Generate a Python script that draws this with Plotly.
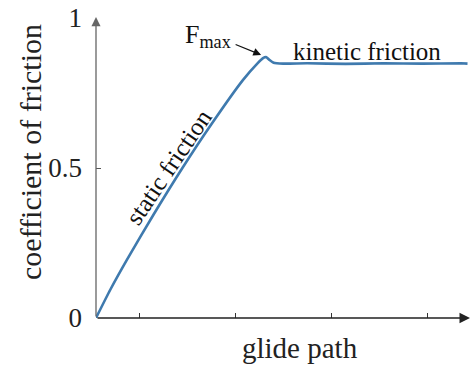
import plotly.graph_objects as go

# data (x in arbitrary glide-path units, y = coefficient of friction)
glide = [0.0, 0.15, 0.32, 0.6, 0.9, 1.2, 1.53, 1.68, 1.74, 1.77, 1.80, 1.85, 1.95, 2.2, 2.6, 3.0, 3.4, 3.8, 3.87]
mu    = [0.0, 0.095, 0.193, 0.345, 0.50, 0.645, 0.793, 0.848, 0.866, 0.870, 0.862, 0.851, 0.848, 0.849, 0.847, 0.849, 0.848, 0.849, 0.848]

xticks = [0.448, 1.448, 2.448, 3.448]
yticks = [0, 0.5, 1]
yticklabels = ["0", "0.5", "1"]

FONT = "Liberation Serif"
XMAX = 374 / 96
ML, MB, PW, PH, H = 96, 49, 374, 300, 367


def px(x, y):
    return (x - ML) / PW, (H - MB - y) / PH


fig = go.Figure()
fig.add_trace(go.Scatter(x=glide, y=mu, mode="lines",
                         line=dict(color="#3f7aae", width=2.6, shape="spline", smoothing=0.6),
                         hoverinfo="skip", showlegend=False, cliponaxis=False))

fig.update_layout(
    width=471, height=367,
    margin=dict(l=ML, r=1, t=18, b=MB),
    paper_bgcolor="white", plot_bgcolor="white",
    font=dict(family=FONT, color="#222", size=26),
    xaxis=dict(range=[0, XMAX], showgrid=False, zeroline=False, showline=False,
               tickvals=xticks, ticktext=["", "", "", ""], ticks="inside",
               ticklen=5, tickcolor="#333", tickwidth=1),
    yaxis=dict(range=[0, 1], showgrid=False, zeroline=False, showline=False,
               tickvals=yticks, ticktext=yticklabels, ticks="inside",
               ticklen=5, tickcolor="#555", tickwidth=1,
               tickfont=dict(family=FONT, size=27, color="#222"),
               ticklabelstandoff=13),
)

# axis arrows
fig.add_annotation(x=0, y=1.003, ax=0, ay=0, xref="x", yref="y", axref="x", ayref="y",
                   showarrow=True, arrowhead=2, arrowsize=1.4, arrowwidth=1.3,
                   arrowcolor="#666", text="")
fig.add_annotation(x=XMAX, y=0, ax=0, ay=0, xref="x", yref="y", axref="x", ayref="y",
                   showarrow=True, arrowhead=2, arrowsize=1.4, arrowwidth=1.5,
                   arrowcolor="#222", text="")


def label(x, y, text, size, angle=0, color="#222"):
    X, Y = px(x, y)
    fig.add_annotation(x=X, y=Y, xref="paper", yref="paper", text=text, showarrow=False,
                       xanchor="center", yanchor="middle", textangle=angle,
                       font=dict(family=FONT, size=size, color=color))


label(30, 152, "coefficient of friction", 30, angle=-90)
label(300, 348, "glide path", 29)
label(367, 52, "kinetic friction", 25, color="#111")
label(168, 167, "static friction", 25, angle=-56, color="#111")
label(208, 36, "F<sub>max</sub>", 26, color="#111")

# F_max arrow
fig.add_annotation(x=1.72, y=0.877, ax=-27, ay=-11, xref="x", yref="y",
                   showarrow=True, arrowhead=2, arrowsize=1.3, arrowwidth=1.2,
                   arrowcolor="#111", text="")

fig.write_html("out.html")
